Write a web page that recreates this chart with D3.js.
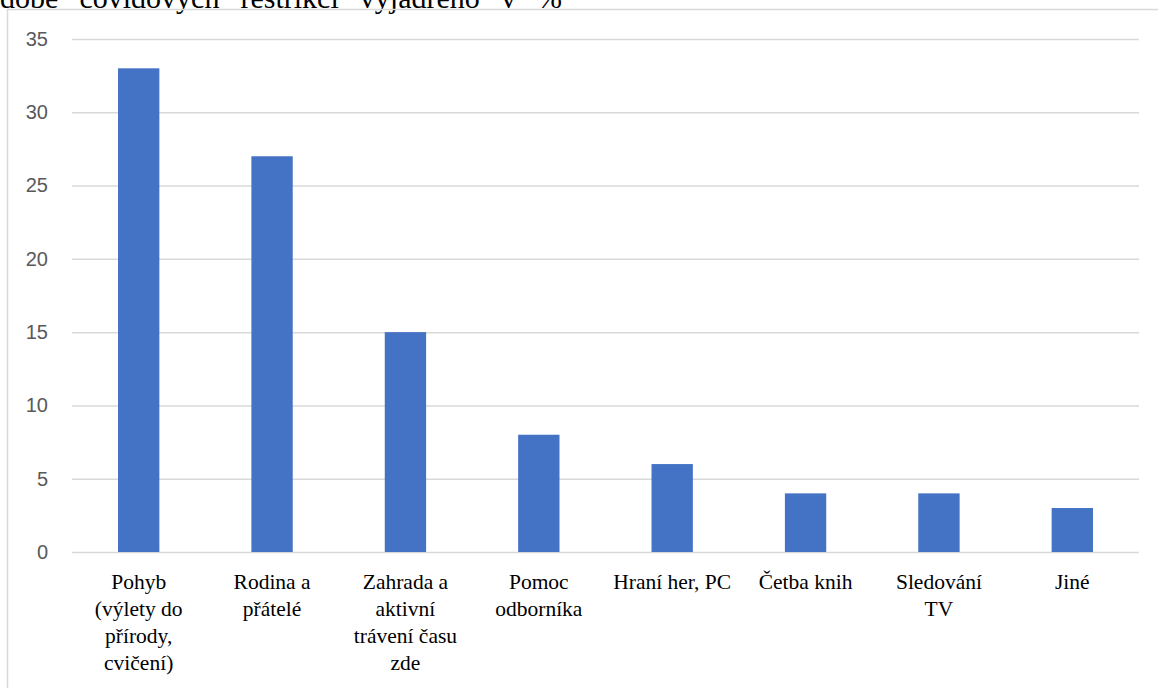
<!DOCTYPE html>
<html lang="cs">
<head>
<meta charset="utf-8">
<script src="https://cdn.jsdelivr.net/npm/d3@7/dist/d3.min.js"></script>
<style>
  html, body { margin: 0; padding: 0; background: #ffffff; overflow: hidden; }
  svg { display: block; }
  .serif { font-family: "Liberation Serif", "Times New Roman", Times, "Tinos", "Nimbus Roman", "Nimbus Roman No9 L", "FreeSerif", "Noto Serif", "DejaVu Serif", serif; }
  .sans { font-family: "Liberation Sans", Arial, "DejaVu Sans", sans-serif; }
</style>
</head>
<body>
<svg id="chart" width="1158" height="688"></svg>
<script>
// Categories (line breaks mark where the axis label wraps)
const categories = [
  "Pohyb\n(výlety do\npřírody,\ncvičení)",
  "Rodina a\npřátelé",
  "Zahrada a\naktivní\ntrávení času\nzde",
  "Pomoc\nodborníka",
  "Hraní her, PC",
  "Četba knih",
  "Sledování\nTV",
  "Jiné"
];
// Share of respondents, in %
const values = [33, 27, 15, 8, 6, 4, 4, 3];
const yTicks = [0, 5, 10, 15, 20, 25, 30, 35];
const captionText = "době covidových restrikcí vyjádřeno v %";

const svg = d3.select("#chart");
const W = 1158, H = 688;
const plot = { left: 72, right: 1139, top: 39, bottom: 552 };

// Caption line running above the chart frame, justified by widening the word gaps
const caption = svg.append("text")
  .attr("class", "serif")
  .attr("x", 0)
  .attr("y", 8)
  .attr("font-size", 30)
  .attr("fill", "#000")
  .text(captionText);
const captionWidth = 562;
const natural = caption.node().getComputedTextLength();
const gaps = captionText.split(" ").length - 1;
caption.attr("word-spacing", Math.max(0, (captionWidth - natural) / gaps));

// Chart frame
svg.append("rect")
  .attr("x", 7.5)
  .attr("y", 9.5)
  .attr("width", W)
  .attr("height", H)
  .attr("fill", "none")
  .attr("stroke", "#d9d9d9")
  .attr("stroke-width", 1.5);

const x = d3.scaleBand()
  .domain(d3.range(categories.length))
  .range([plot.left, plot.right])
  .padding(0);

const y = d3.scaleLinear()
  .domain([0, 35])
  .range([plot.bottom, plot.top]);

// Horizontal gridlines and value labels
const yAxis = d3.axisLeft(y)
  .tickValues(yTicks)
  .tickSize(-(plot.right - plot.left))
  .tickPadding(24);

const gy = svg.append("g")
  .attr("transform", `translate(${plot.left},0)`)
  .call(yAxis);
gy.select(".domain").remove();
gy.attr("font-family", null);
gy.selectAll(".tick line")
  .attr("stroke", "#d9d9d9")
  .attr("stroke-width", 1.5);
gy.selectAll(".tick text")
  .attr("class", "sans")
  .attr("font-size", 20)
  .attr("fill", "#595959");

// Bars
const barW = x.bandwidth() * 0.31;
svg.append("g")
  .selectAll("rect")
  .data(values)
  .join("rect")
  .attr("x", (d, i) => x(i) + (x.bandwidth() - barW) / 2)
  .attr("y", d => y(d))
  .attr("width", barW)
  .attr("height", d => y(0) - y(d))
  .attr("fill", "#4472c4");

// Category labels below the axis
const gx = svg.append("g");
categories.forEach((c, i) => {
  const cx = x(i) + x.bandwidth() / 2;
  const t = gx.append("text")
    .attr("class", "serif")
    .attr("x", cx)
    .attr("y", 589)
    .attr("text-anchor", "middle")
    .attr("font-size", 21.5)
    .attr("fill", "#000");
  c.split("\n").forEach((line, k) => {
    t.append("tspan")
      .attr("x", cx)
      .attr("dy", k === 0 ? 0 : 27)
      .text(line);
  });
});
</script>
</body>
</html>
